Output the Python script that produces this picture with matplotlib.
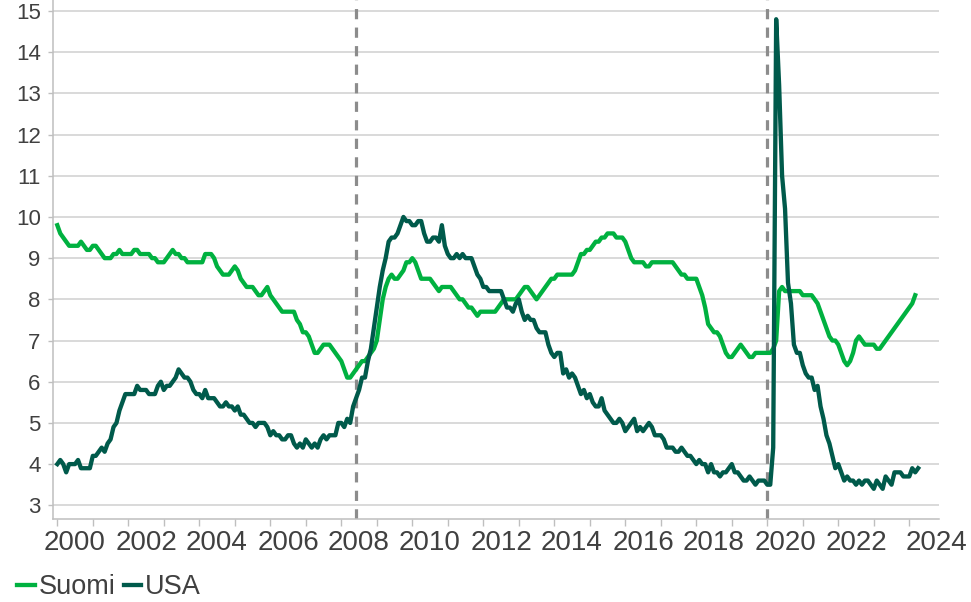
import numpy as np
import matplotlib.pyplot as plt

plt.rcParams['font.family'] = ['Liberation Sans', 'DejaVu Sans']

# Työttömyysaste, kuukausittain tammikuusta 2000 alkaen (%)
suomi = [
    9.8, 9.6, 9.5, 9.4, 9.3, 9.3, 9.3, 9.3, 9.4, 9.3, 9.2, 9.2,   # 2000
    9.3, 9.3, 9.2, 9.1, 9.0, 9.0, 9.0, 9.1, 9.1, 9.2, 9.1, 9.1,   # 2001
    9.1, 9.1, 9.2, 9.2, 9.1, 9.1, 9.1, 9.1, 9.0, 9.0, 8.9, 8.9,   # 2002
    8.9, 9.0, 9.1, 9.2, 9.1, 9.1, 9.0, 9.0, 8.9, 8.9, 8.9, 8.9,   # 2003
    8.9, 8.9, 9.1, 9.1, 9.1, 9.0, 8.8, 8.7, 8.6, 8.6, 8.6, 8.7,   # 2004
    8.8, 8.7, 8.5, 8.4, 8.3, 8.3, 8.3, 8.2, 8.1, 8.1, 8.2, 8.3,   # 2005
    8.1, 8.0, 7.9, 7.8, 7.7, 7.7, 7.7, 7.7, 7.7, 7.5, 7.4, 7.2,   # 2006
    7.2, 7.1, 6.9, 6.7, 6.7, 6.8, 6.9, 6.9, 6.9, 6.8, 6.7, 6.6,   # 2007
    6.5, 6.3, 6.1, 6.1, 6.2, 6.3, 6.4, 6.5, 6.5, 6.6, 6.7, 6.8,   # 2008
    7.0, 7.5, 8.0, 8.3, 8.5, 8.6, 8.5, 8.5, 8.6, 8.7, 8.9, 8.9,   # 2009
    9.0, 8.9, 8.7, 8.5, 8.5, 8.5, 8.5, 8.4, 8.3, 8.2, 8.3, 8.3,   # 2010
    8.3, 8.3, 8.2, 8.1, 8.0, 8.0, 7.9, 7.8, 7.8, 7.7, 7.6, 7.7,   # 2011
    7.7, 7.7, 7.7, 7.7, 7.7, 7.8, 7.9, 8.0, 8.0, 8.0, 8.0, 8.0,   # 2012
    8.1, 8.2, 8.3, 8.3, 8.2, 8.1, 8.0, 8.1, 8.2, 8.3, 8.4, 8.5,   # 2013
    8.5, 8.6, 8.6, 8.6, 8.6, 8.6, 8.6, 8.7, 8.9, 9.1, 9.1, 9.2,   # 2014
    9.2, 9.3, 9.4, 9.4, 9.5, 9.5, 9.6, 9.6, 9.6, 9.5, 9.5, 9.5,   # 2015
    9.4, 9.2, 9.0, 8.9, 8.9, 8.9, 8.9, 8.8, 8.8, 8.9, 8.9, 8.9,   # 2016
    8.9, 8.9, 8.9, 8.9, 8.9, 8.8, 8.7, 8.6, 8.6, 8.5, 8.5, 8.5,   # 2017
    8.5, 8.3, 8.1, 7.8, 7.4, 7.3, 7.2, 7.2, 7.1, 6.9, 6.7, 6.6,   # 2018
    6.6, 6.7, 6.8, 6.9, 6.8, 6.7, 6.6, 6.6, 6.7, 6.7, 6.7, 6.7,   # 2019
    6.7, 6.7, 6.8, 7.0, 8.2, 8.3, 8.2, 8.2, 8.2, 8.2, 8.2, 8.2,   # 2020
    8.1, 8.1, 8.1, 8.1, 8.0, 7.9, 7.7, 7.5, 7.3, 7.1, 7.0, 7.0,   # 2021
    6.9, 6.7, 6.5, 6.4, 6.5, 6.7, 7.0, 7.1, 7.0, 6.9, 6.9, 6.9,   # 2022
    6.9, 6.8, 6.8, 6.9, 7.0, 7.1, 7.2, 7.3, 7.4, 7.5, 7.6, 7.7,   # 2023
    7.8, 7.9, 8.1,                                                # 2024
]

usa = [
    4.0, 4.1, 4.0, 3.8, 4.0, 4.0, 4.0, 4.1, 3.9, 3.9, 3.9, 3.9,   # 2000
    4.2, 4.2, 4.3, 4.4, 4.3, 4.5, 4.6, 4.9, 5.0, 5.3, 5.5, 5.7,   # 2001
    5.7, 5.7, 5.7, 5.9, 5.8, 5.8, 5.8, 5.7, 5.7, 5.7, 5.9, 6.0,   # 2002
    5.8, 5.9, 5.9, 6.0, 6.1, 6.3, 6.2, 6.1, 6.1, 6.0, 5.8, 5.7,   # 2003
    5.7, 5.6, 5.8, 5.6, 5.6, 5.6, 5.5, 5.4, 5.4, 5.5, 5.4, 5.4,   # 2004
    5.3, 5.4, 5.2, 5.2, 5.1, 5.0, 5.0, 4.9, 5.0, 5.0, 5.0, 4.9,   # 2005
    4.7, 4.8, 4.7, 4.7, 4.6, 4.6, 4.7, 4.7, 4.5, 4.4, 4.5, 4.4,   # 2006
    4.6, 4.5, 4.4, 4.5, 4.4, 4.6, 4.7, 4.6, 4.7, 4.7, 4.7, 5.0,   # 2007
    5.0, 4.9, 5.1, 5.0, 5.4, 5.6, 5.8, 6.1, 6.1, 6.5, 6.8, 7.3,   # 2008
    7.8, 8.3, 8.7, 9.0, 9.4, 9.5, 9.5, 9.6, 9.8, 10.0, 9.9, 9.9,  # 2009
    9.8, 9.8, 9.9, 9.9, 9.6, 9.4, 9.4, 9.5, 9.5, 9.4, 9.8, 9.3,   # 2010
    9.1, 9.0, 9.0, 9.1, 9.0, 9.1, 9.0, 9.0, 9.0, 8.8, 8.6, 8.5,   # 2011
    8.3, 8.3, 8.2, 8.2, 8.2, 8.2, 8.2, 8.0, 7.8, 7.8, 7.7, 7.9,   # 2012
    8.0, 7.7, 7.5, 7.6, 7.5, 7.5, 7.3, 7.2, 7.2, 7.2, 6.9, 6.7,   # 2013
    6.6, 6.7, 6.7, 6.2, 6.3, 6.1, 6.2, 6.1, 5.9, 5.7, 5.8, 5.6,   # 2014
    5.7, 5.5, 5.4, 5.4, 5.6, 5.3, 5.2, 5.1, 5.0, 5.0, 5.1, 5.0,   # 2015
    4.8, 4.9, 5.0, 5.1, 4.8, 4.9, 4.8, 4.9, 5.0, 4.9, 4.7, 4.7,   # 2016
    4.7, 4.6, 4.4, 4.4, 4.4, 4.3, 4.3, 4.4, 4.3, 4.2, 4.2, 4.1,   # 2017
    4.0, 4.1, 4.0, 4.0, 3.8, 4.0, 3.8, 3.8, 3.7, 3.8, 3.8, 3.9,   # 2018
    4.0, 3.8, 3.8, 3.7, 3.6, 3.6, 3.7, 3.6, 3.5, 3.6, 3.6, 3.6,   # 2019
    3.5, 3.5, 4.4, 14.8, 13.2, 11.0, 10.2, 8.4, 7.9, 6.9, 6.7, 6.7,  # 2020
    6.4, 6.2, 6.1, 6.1, 5.8, 5.9, 5.4, 5.1, 4.7, 4.5, 4.2, 3.9,   # 2021
    4.0, 3.8, 3.6, 3.7, 3.6, 3.6, 3.5, 3.6, 3.5, 3.6, 3.6, 3.5,   # 2022
    3.4, 3.6, 3.5, 3.4, 3.7, 3.6, 3.5, 3.8, 3.8, 3.8, 3.7, 3.7,   # 2023
    3.7, 3.9, 3.8, 3.9,                                           # 2024
]

vuodet = list(range(2000, 2025))
vuosi_labels = [str(v) for v in range(2000, 2025, 2)]
kriisit = [2008 + 5 / 12, 2020.0]   # pystyviivat (finanssikriisi, korona)

# Kuukaudet vuosina
x_suomi = 2000 + np.arange(len(suomi)) / 12
x_usa = 2000 + np.arange(len(usa)) / 12

vihrea = '#00B140'
tumma = '#005A4B'
teksti = '#404040'

fig = plt.figure(figsize=(9.71, 6.02), dpi=100)
ax = fig.add_axes([53.3 / 971, 1 - 519.3 / 602, (939 - 53.3) / 971, 519.3 / 602])

ax.plot(x_suomi, suomi, color=vihrea, linewidth=3.1, solid_joinstyle='round', label='Suomi', zorder=3)
ax.plot(x_usa, usa, color=tumma, linewidth=3.1, solid_joinstyle='round', label='USA', zorder=4)

for k in kriisit:
    ax.axvline(k, color='#8c8c8c', linewidth=2.3, linestyle=(0, (3.2, 2.6)), zorder=2)

# Akselit
ax.set_xlim(1999.887, 2024.837)
ax.set_ylim(2.66, 15.267)
ax.set_yticks(range(3, 16))
ax.set_xticks(vuodet)
ax.set_xticklabels([])
# vuosiluvut vuoden keskelle, viimeinen hieman oikealle kuten alkuperäisessä
label_pos = [v + 0.5 for v in range(2000, 2024, 2)] + [2024.78]
ax.set_xticks(label_pos, minor=True)
ax.set_xticklabels(vuosi_labels, minor=True)

ax.grid(axis='y', color='#d0d0d0', linewidth=1.1, zorder=0)
ax.tick_params(axis='y', which='major', length=3.6, width=1, color='#bfbfbf',
               labelsize=16, labelcolor=teksti, pad=5.5)
ax.tick_params(axis='x', which='major', length=5, width=1, color='#bfbfbf')
ax.tick_params(axis='x', which='minor', length=0, labelsize=20, labelcolor=teksti, pad=8)

for s in ['top', 'right']:
    ax.spines[s].set_visible(False)
for s in ['left', 'bottom']:
    ax.spines[s].set_color('#bfbfbf')
    ax.spines[s].set_linewidth(1.1)

# Selite alareunaan
fig.legend(loc='center left', bbox_to_anchor=(17 / 971, 1 - 587 / 602), ncol=2,
           frameon=False, fontsize=19.5, handlelength=0.65, handletextpad=0.15,
           columnspacing=0.3, borderpad=0, borderaxespad=0, labelcolor=teksti)

plt.savefig('out.png', dpi=100)
